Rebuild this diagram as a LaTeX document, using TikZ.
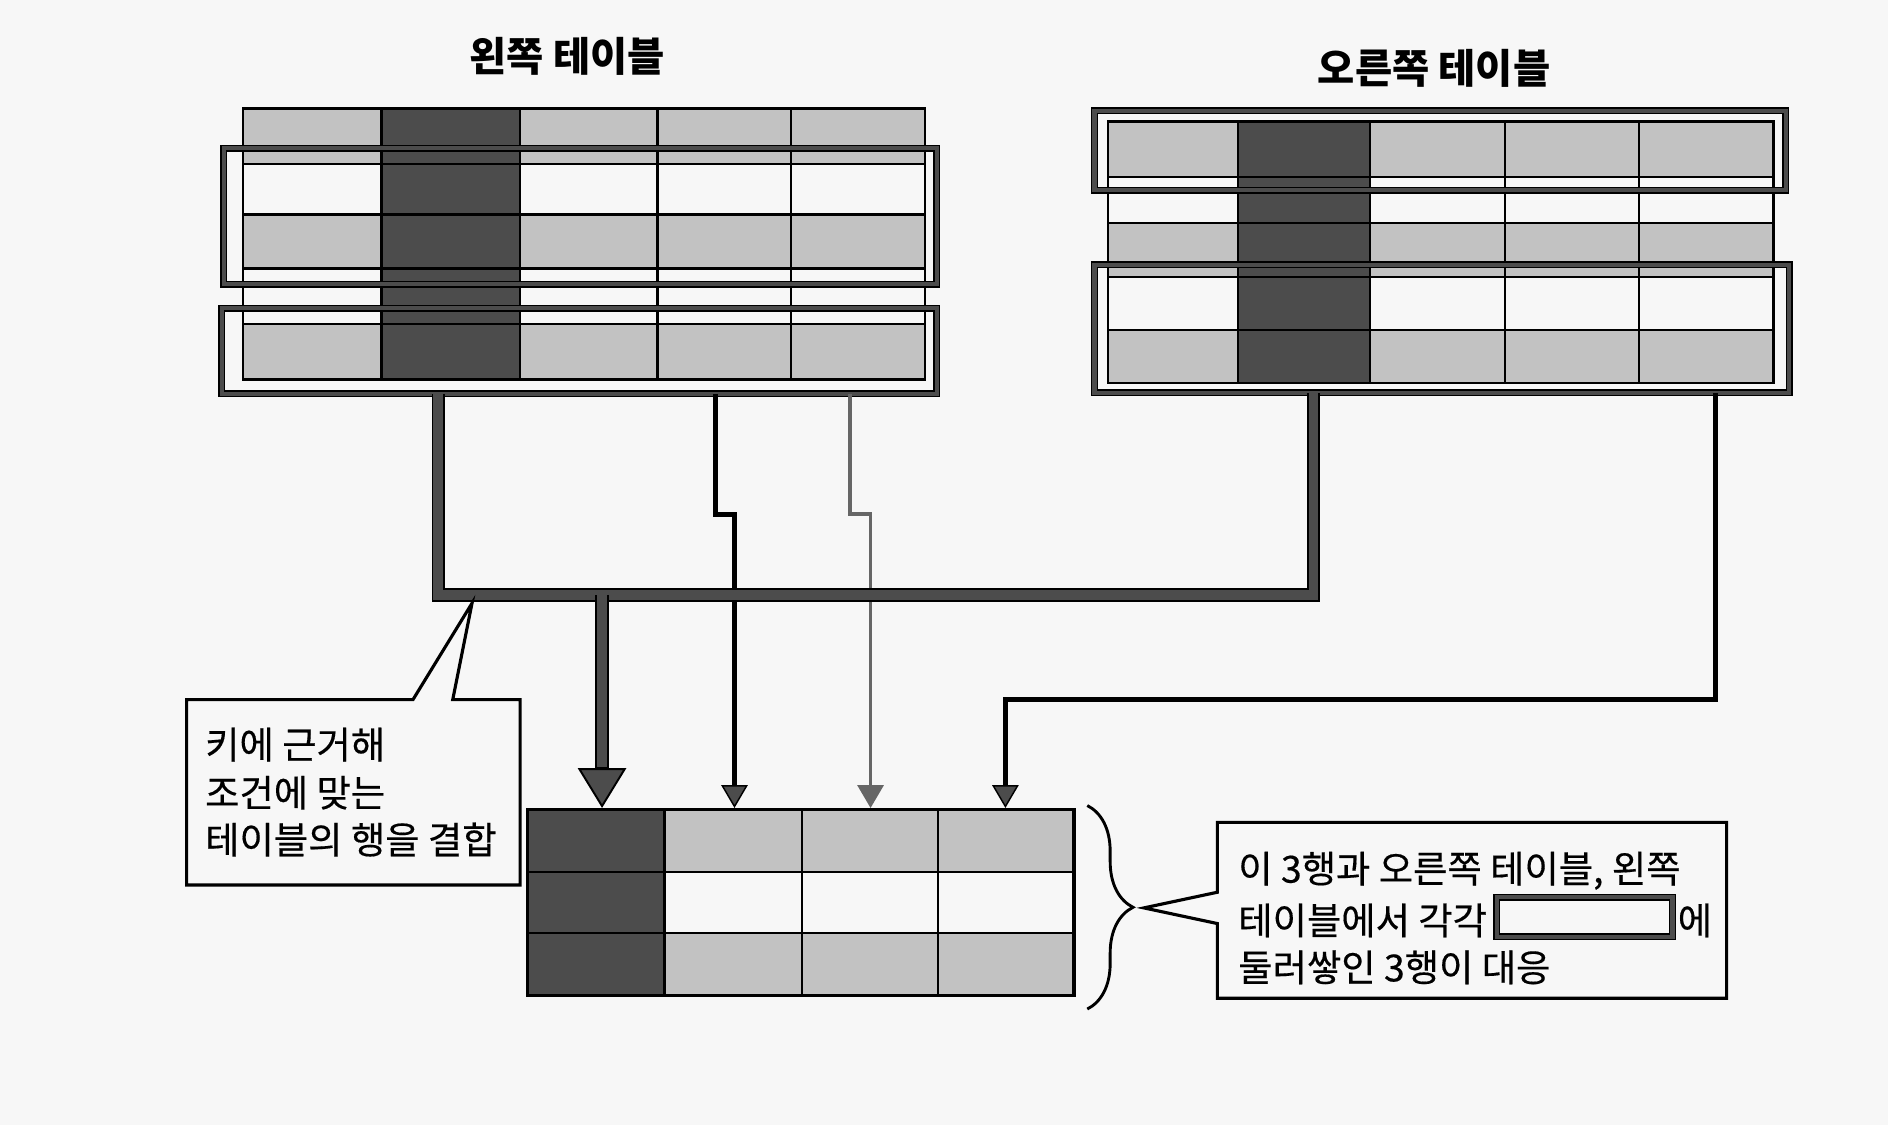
\documentclass[tikz,border=0pt]{standalone}
\usepackage{fontspec}
\setmainfont{Noto Sans CJK KR}
\newfontfamily\policebulle{Noto Sans CJK KR}[FakeBold=0.4]
\usetikzlibrary{arrows.meta,positioning,decorations.pathreplacing}

\definecolor{papier}{gray}{0.97}
\definecolor{grisclair}{gray}{0.76}
\definecolor{grisfonce}{gray}{0.30}
\definecolor{grismoyen}{gray}{0.40}

\begin{document}
\begin{tikzpicture}[x=0.5pt, y=-0.5pt]
	\tikzset{grise/.style={fill=grisclair}, cle/.style={fill=grisfonce}, grille/.style={black, line width=1pt},
		cadre/.style={draw=black, double=grisfonce, line width=0.6pt, double distance=1.7pt},
		lien/.style={draw=black, double=grisfonce, line width=0.8pt, double distance=4pt},
		fleche/.style={black, line width=2pt, -{Triangle[width=11pt, length=9.5pt, fill=grisfonce, line width=0.6pt]}},
		bulle/.style={draw=black, line width=1.3pt, fill=papier, line join=miter},
		texte/.style={font=\policebulle\fontsize{15.5}{18}\selectfont, inner sep=0pt, anchor=base west},
		titre/.style={font=\fontsize{16.8}{20}\selectfont\bfseries}};

	\path[use as bounding box, fill=papier] (0,0) rectangle (1568,934);

	\node[titre] (titreG) at ( 471,  47) {왼쪽 테이블};
	\node[titre] (titreD) at (1191,  57) {오른쪽 테이블};

	% table de gauche
	\fill[grise] (202, 90) rectangle (768,136);
	\fill[grise] (202,178) rectangle (768,223);
	\fill[grise] (202,269) rectangle (768,315);
	\fill[cle]   (317, 90) rectangle (432,315);
	\draw[grille] (202,90) rectangle (768,315);
	\foreach \y in {136,178,223,269} \draw[grille] (202,\y) -- (768,\y);
	\foreach \x in {317,432,546,657} \draw[grille] (\x,90) -- (\x,315);
	\draw[cadre] (186,123) rectangle (778,236);
	\draw[cadre] (184,256) rectangle (778,327);

	% table de droite
	\fill[grise] (920,101) rectangle (1473,147);
	\fill[grise] (920,185) rectangle (1473,230);
	\fill[grise] (920,274) rectangle (1473,318);
	\fill[cle]   (1028,101) rectangle (1138,318);
	\draw[grille] (920,101) rectangle (1473,318);
	\foreach \y in {147,185,230,274} \draw[grille] (920,\y) -- (1473,\y);
	\foreach \x in {1028,1138,1250,1361} \draw[grille] (\x,101) -- (\x,318);
	\draw[cadre] (909, 92) rectangle (1483,158);
	\draw[cadre] (909,220) rectangle (1486,326);

	% resultat
	\fill[grise] (438,672) rectangle (892,724);
	\fill[grise] (438,775) rectangle (892,827);
	\fill[cle]   (438,672) rectangle (552,827);
	\foreach \y in {724,775} \draw[grille] (438,\y) -- (892,\y);
	\foreach \x in {552,666,779} \draw[grille] (\x,672) -- (\x,827);
	\draw[grille, line width=1.3pt] (438,672) rectangle (892,827);

	\coordinate (hautA) at ( 364,327);
	\coordinate (hautB) at ( 594,327);
	\coordinate (hautC) at ( 706,327);
	\coordinate (hautE) at (1425,326);
	\coordinate (hautF) at (1091,326);
	\coordinate (busA)  at ( 500,494);
	\coordinate (basA)  at ( 500,671);
	\coordinate (basB)  at ( 610,671);
	\coordinate (basC)  at ( 723,671);
	\coordinate (basE)  at ( 835,671);

	\draw[fleche] (hautB) -- ++(0,100) -| (basB);
	\draw[fleche, grismoyen, line width=1.6pt, -{Triangle[width=11pt, length=9.5pt, fill=grismoyen, line width=0.6pt]}] (hautC) -- ++(0,100) -| (basC);
	\draw[fleche] (hautE) -- ++(0,255) -| (basE);
	\draw[lien] (hautA) -- ++(0,167) -| (hautF);
	\draw[black, line width=5.6pt, -{Triangle[width=20pt, length=16.5pt, fill=grisfonce, line width=0.8pt]}] (busA) -- (basA);
	\draw[grisfonce, line width=4pt, shorten >=17pt] (busA) -- (basA);

	% bulles
	\draw[bulle] (155,581) -- (343,581) -- (392,501) -- (376,581) -- (432,581) -- (432,735) -- (155,735) -- cycle;
	\node[texte] (cle1) at (170,630) {키에 근거해};
	\node[texte] (cle2) at (170,670) {조건에 맞는};
	\node[texte] (cle3) at (170,709) {테이블의 행을 결합};

	\draw[line width=1.2pt, decorate, decoration={brace, amplitude=19pt}] (903,669) -- (903,838);
	\draw[bulle] (1011,683) -- (1434,683) -- (1434,829) -- (1011,829) -- (1011,767) -- (950,754) -- (1011,741) -- cycle;
	\node[texte] (ligne1) at (1028,733) {이 3행과 오른쪽 테이블, 왼쪽};
	\node[texte] (ligne2) at (1028,776) {테이블에서 각각};
	\draw[cadre] (1243,745) rectangle (1389,778);
	\node[texte] (ligne2b) at (1393,776) {에};
	\node[texte] (ligne3) at (1028,815) {둘러쌓인 3행이 대응};
\end{tikzpicture}
\end{document}
